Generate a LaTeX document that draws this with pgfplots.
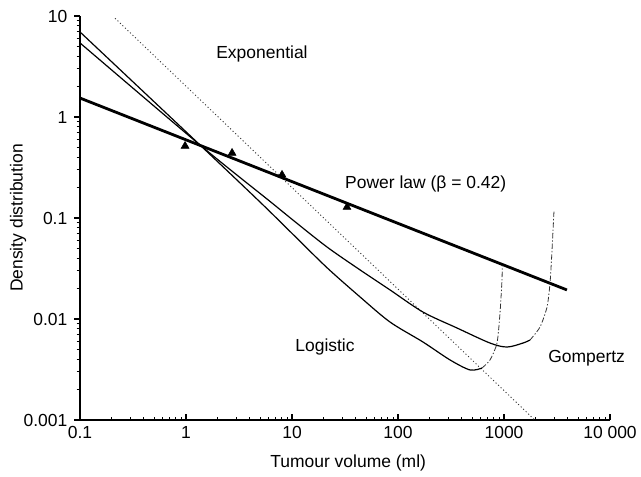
\documentclass[border=0pt]{standalone}
\usepackage{fontspec}
\setmainfont{Liberation Sans}
\usepackage{pgfplots}
\pgfplotsset{compat=1.18}
\begin{document}
\begin{tikzpicture}[font=\fontsize{13.1}{15}\selectfont]
\useasboundingbox (0,0) rectangle (480.75pt,357.75pt);
\begin{axis}[
  at={(60pt,42.75pt)}, anchor=south west,
  scale only axis, width=397.5pt, height=303pt,
  xmode=log, ymode=log,
  xmin=0.1, xmax=10000, ymin=0.001, ymax=10,
  axis lines*=left,
  axis line style={line width=1.4pt},
  clip mode=individual,
  xtick={0.1,1,10,100,1000,10000},
  xticklabels={0.1,1,10,100,1000,10\ 000},
  ytick={0.001,0.01,0.1,1,10},
  yticklabels={0.001,0.01,0.1,1,10},
  xtick align=inside, ytick align=outside,
  major tick length=4.5pt, minor tick length=2.5pt,
  every tick/.style={black, line width=0.8pt},
  font=\fontsize{13.1}{15}\selectfont,
  tick label style={font=\fontsize{13.1}{15}\selectfont},
  yticklabel style={xshift=-1.5pt},
  xticklabel style={yshift=-1.5pt},
  xlabel={Tumour volume (ml)},
  ylabel={Density distribution},
  xlabel style={at={(axis description cs:0.506,-0.106)}, anchor=center},
  ylabel style={at={(axis description cs:-0.117,0.5)}, anchor=center},
]
% exponential (dotted)
\addplot[black!80, line width=0.65pt, dash pattern=on 0.8pt off 1.8pt] coordinates {
  (0.214,9.5) (1950,0.001)
};
% power law
\addplot[black, line width=2.1pt] coordinates {
  (0.1,1.54) (3925,0.0194)
};
% data points
\addplot[only marks, mark=triangle*, mark size=3.4pt, black] coordinates {
  (0.98,0.516) (2.72,0.44) (8.05,0.267) (33,0.128)
};
% logistic, solid part
\addplot[black, line width=0.9pt, smooth, tension=0.5] coordinates {
  (0.1,6.95) (1.356,0.528) (4.99,0.144) (10.2,0.069) (21.4,0.0322)
  (43.9,0.01652) (84.1,0.00933) (172,0.00592) (310,0.00393)
  (478,0.00313) (620,0.00327)
};
% logistic, rising part
\addplot[black!80, line width=0.6pt, dash pattern=on 4pt off 1.5pt on 1pt off 1.5pt, smooth, tension=0.4] coordinates {
  (620,0.00327) (738,0.00393) (859,0.00578) (917,0.01146) (957,0.0243) (962,0.034)
};
% gompertz, solid part
\addplot[black, line width=0.9pt, smooth, tension=0.5] coordinates {
  (0.1,5.41) (1.356,0.528) (6.20,0.146) (10.2,0.0955) (21.4,0.0516)
  (43.9,0.0306) (84.1,0.0194) (172,0.01172) (360,0.00815)
  (738,0.00578) (1067,0.00528) (1510,0.00578) (1759,0.00619)
};
% gompertz, rising part
\addplot[black!80, line width=0.6pt, dash pattern=on 4pt off 1.5pt on 1pt off 1.5pt, smooth, tension=0.4] coordinates {
  (1759,0.00619) (2188,0.00834) (2547,0.01315) (2718,0.0227) (2838,0.0482) (2965,0.120)
};
\node[anchor=center] at (axis cs:5.21,4.21) {Exponential};
\node[anchor=west, inner sep=0pt] at (axis cs:31.6,0.215) {Power law (β = 0.42)};
\node[anchor=west, inner sep=0pt] at (axis cs:10.7,0.00528) {Logistic};
\node[anchor=west, inner sep=0pt] at (axis cs:2600,0.00411) {Gompertz};
\end{axis}
\end{tikzpicture}
\end{document}
